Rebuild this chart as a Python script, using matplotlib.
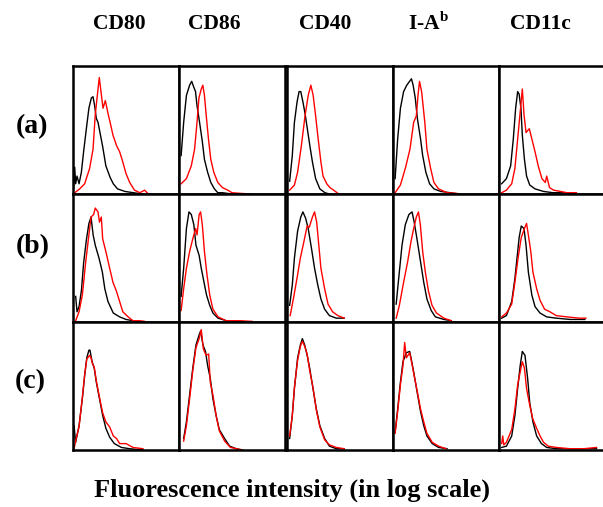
import matplotlib
matplotlib.use("Agg")
import matplotlib.pyplot as plt

plt.rcParams['font.family'] = ['Liberation Serif', 'DejaVu Serif']
plt.rcParams['font.weight'] = 'bold'
plt.rcParams['mathtext.fontset'] = 'custom'
plt.rcParams['mathtext.rm'] = 'Liberation Serif:bold'

markers = ["CD80", "CD86", "CD40", r"I-A$^{\mathrm{b}}$", "CD11c"]
row_labels = ["(a)", "(b)", "(c)"]
x_label = "Fluorescence intensity (in log scale)"

# histogram outlines: (intensity %, count % of panel height)
a_cd80_black = [(0.6, 4), (1.6, 21), (2.5, 8), (3.8, 14), (5.7, 8), (7.9, 17), (10, 33), (12.6, 51),
                (15, 67), (17.3, 75), (18.9, 76), (20.4, 69), (22, 59), (23.6, 56), (25, 50), (28, 37),
                (31, 22), (35, 13), (38, 8), (42, 4), (49, 2), (57, 1), (66, 0)]
a_cd80_red = [(1.6, 1), (6.3, 4), (11, 8), (15.7, 20), (18.9, 35), (21, 62), (23.6, 82), (24.8, 91),
              (26.4, 80), (28.3, 67), (30.5, 73), (33, 63), (35, 56), (37.7, 46), (41, 38), (44, 33),
              (47, 25), (50, 16), (53.5, 9), (58, 3), (63, 1), (67.6, 3), (71, 0), (75, 0)]
a_cd86_black = [(2, 30), (4.4, 56), (7, 77), (10, 85), (12, 88), (13.7, 84), (15.6, 80), (17, 69),
                (19.4, 56), (22, 41), (24, 27), (27, 17), (30, 9), (33.4, 4), (36.6, 1), (41, 1),
                (50, 0), (63, 0)]
a_cd86_red = [(2, 8), (7, 12), (11.6, 22), (14.7, 35), (17, 56), (18.8, 75), (21, 82), (22.5, 85),
              (24, 77), (25.6, 62), (27.8, 43), (30, 27), (32.8, 17), (36.6, 9), (41, 5), (46, 3),
              (50, 1), (58, 0.5), (68, 0)]
a_cd40_black = [(2.5, 10), (5, 30), (7, 56), (9.5, 72), (11.4, 80), (13, 80), (15, 72), (17, 63),
                (19, 52), (21.5, 38), (24, 25), (27, 12), (31, 4), (35.8, 1), (40, 0)]
a_cd40_red = [(2.5, 3), (7, 7), (10, 17), (13.6, 38), (17, 61), (20, 77), (22.5, 85), (24.7, 77),
              (27, 61), (29.4, 43), (32, 25), (34, 14), (37.5, 8), (40.5, 5), (44, 3), (48, 0.5)]
a_iab_black = [(2, 12), (4.4, 43), (7, 67), (10, 80), (13, 85), (17.4, 90), (19, 85), (21, 75),
               (23, 59), (26, 43), (28, 30), (31, 17), (34.5, 8), (38.6, 4), (45, 2), (54, 1), (62, 0)]
a_iab_red = [(2, 1), (7, 7), (11.6, 20), (16, 35), (19.5, 56), (22, 61), (23.6, 77), (25, 88),
             (27, 80), (30, 56), (32, 35), (35.5, 20), (38.6, 9), (43, 4), (51, 1), (60, 0.5), (63, 0)]
a_cd11c_black = [(2.5, 8), (7, 12), (11, 22), (13.5, 43), (15.7, 67), (17.6, 80), (19, 78), (20.7, 67),
                 (22, 46), (24, 27), (26, 14), (29, 7), (34, 4), (42, 2), (51, 1), (64, 1), (73, 0.5)]
a_cd11c_red = [(2.5, 1), (7, 3), (12, 8), (15, 20), (17.6, 43), (20, 64), (22, 82), (23.6, 62),
               (25.5, 48), (28.6, 51), (31, 43), (34, 33), (37, 22), (40.5, 12), (43.7, 9), (45, 14),
               (47.7, 5), (51.5, 3), (58, 2), (64, 1), (73, 1)]

b_cd80_black = [(2.5, 20), (3.8, 8), (5.7, 12), (8, 25), (10, 46), (12.6, 64), (15, 77), (17, 82),
                (19, 68), (21, 60), (24.5, 50), (27.7, 39), (30, 26), (33, 16), (38, 7), (44, 4),
                (50, 2), (56.6, 1), (66, 0)]
b_cd80_red = [(2.5, 1), (5.7, 8), (8.8, 21), (12, 47), (15, 68), (17, 82), (19.5, 84), (21, 89),
              (23.6, 86), (25, 78), (26.7, 82), (28, 65), (31, 55), (34.6, 42), (37.7, 31), (41, 24),
              (44, 16), (47, 8), (52, 4), (56.6, 1), (63, 1), (67.6, 0.5)]
b_cd86_black = [(2, 20), (4.4, 42), (7, 73), (9.4, 86), (11.6, 84), (14, 76), (16, 60), (19, 52),
                (21, 42), (23.6, 31), (26, 21), (29, 13), (32, 7), (36.8, 3), (44.6, 1), (60, 0.5)]
b_cd86_red = [(2, 9), (4.4, 26), (7, 42), (10, 55), (13, 65), (15.7, 73), (17, 68), (19, 84),
              (20.4, 86), (22, 76), (24, 55), (26.4, 37), (29, 21), (32, 10), (36.8, 4), (44.6, 1),
              (57, 1), (69, 0.5)]
b_cd40_black = [(2.5, 13), (5, 29), (7, 50), (10, 71), (13, 82), (15, 86), (17.6, 81), (20, 73),
                (23, 58), (26, 42), (29, 29), (32, 18), (35.5, 10), (40, 5), (46.5, 3), (54, 3)]
b_cd40_red = [(3, 5), (6, 18), (9.4, 34), (12.6, 50), (16, 63), (19, 75), (21, 74), (24, 82),
              (26, 86), (28, 78), (30, 60), (32, 42), (35.5, 26), (38.7, 14), (43, 8), (48, 5), (54, 3)]
b_iab_black = [(3, 14), (5, 31), (8.5, 60), (11.6, 76), (15, 84), (18, 86), (20, 78), (22.6, 65),
               (26, 47), (29, 31), (32, 18), (36, 9), (40, 4), (48, 2), (55, 1)]
b_iab_red = [(3, 3), (6, 13), (10, 31), (13.8, 47), (17, 63), (19.5, 73), (22, 82), (24, 86),
             (25.8, 76), (28, 55), (30.5, 39), (33.5, 24), (36.8, 13), (41, 7), (48, 3), (55, 1)]
b_cd11c_black = [(2.5, 3), (7, 5), (12, 16), (15, 34), (17, 50), (19, 66), (21, 75), (23.6, 73),
                 (25.5, 60), (27.7, 39), (31, 21), (34, 12), (38.7, 7), (45, 4), (54, 3), (67, 2), (81, 2)]
b_cd11c_red = [(2.5, 4), (7, 7), (12, 14), (15, 31), (18, 50), (21, 66), (24, 73), (26, 77),
               (27.7, 68), (30, 55), (32, 39), (35.5, 26), (38.7, 17), (43, 10), (48, 8), (54, 5),
               (64, 4), (76, 3), (82, 3)]

c_cd80_black = [(1, 19), (2.5, 6), (5.7, 19), (8.8, 40), (11, 58), (13, 72), (15, 78), (16, 78),
                (18, 69), (20, 64), (22, 53), (25, 40), (28, 27), (31, 17), (34.6, 10), (39, 5),
                (45.6, 2), (53.5, 1), (66, 0)]
c_cd80_red = [(1, 1), (3, 9), (5.7, 18), (8.8, 41), (11, 59), (13, 71), (15.7, 74), (17, 72),
              (18.5, 67), (20, 65), (22, 54), (25, 41), (28, 29), (31, 22), (34.6, 18), (38, 11),
              (41, 9), (44, 5), (50, 5), (56.6, 2), (66, 1)]
c_cd86_black = [(4.4, 9), (7, 22), (10, 43), (13, 64), (16, 82), (19, 90), (20.4, 93), (22.6, 82),
                (25, 77), (27, 66), (29.5, 56), (32, 40), (35, 27), (38, 16), (43, 9), (47.8, 3),
                (54, 1), (60, 0)]
c_cd86_red = [(4.4, 7), (7, 19), (10, 40), (13, 62), (16, 80), (19, 87), (21, 94), (23, 79),
              (25.5, 74), (28, 75), (29.5, 53), (32, 43), (35, 27), (38, 15), (43, 7), (48.5, 2),
              (60, 0)]
c_cd40_black = [(2.5, 9), (5, 27), (7, 48), (10, 72), (12.6, 82), (14.5, 87), (16.7, 82), (19, 74),
                (21.4, 64), (24.5, 48), (27.7, 32), (31, 19), (35.5, 9), (40, 3), (46.5, 1), (54, 1)]
c_cd40_red = [(2.5, 11), (5, 27), (7, 49), (10, 70), (12.6, 81), (14.5, 85), (16.7, 81), (19, 75),
              (21.4, 62), (24.5, 49), (27.7, 31), (31, 18), (35.5, 8), (40, 4), (46.5, 2), (54, 1)]
c_iab_black = [(2, 14), (4.4, 32), (7, 53), (9.4, 69), (12.6, 76), (15.7, 77), (17, 72), (19.5, 61),
               (22.6, 46), (26, 30), (29, 19), (32, 11), (37, 5), (43, 2), (51, 1)]
c_iab_red = [(2, 13), (4.4, 30), (7, 51), (9.4, 66), (11, 84), (12.6, 72), (15.7, 76), (17, 71),
             (19.5, 60), (22.6, 47), (26, 32), (29, 22), (32, 13), (37, 6), (43, 3), (50, 1)]
c_cd11c_black = [(2.5, 2), (7, 3), (12, 11), (15, 27), (17.6, 48), (20, 66), (22, 77), (24.5, 74),
                 (27, 56), (29, 37), (32, 22), (35.5, 11), (40, 5), (45, 2), (54, 1), (67, 1), (92, 1)]
c_cd11c_red = [(2.5, 5), (3.5, 11), (4.5, 4), (7, 6), (12, 16), (15, 32), (17.6, 51), (20, 61),
               (22, 69), (24, 64), (26, 48), (29, 35), (32, 24), (35.5, 17), (38.7, 11), (42, 6),
               (46.5, 3), (54, 2), (67, 1), (80, 1), (92, 2)]

grid = [
    [(a_cd80_black, a_cd80_red), (a_cd86_black, a_cd86_red), (a_cd40_black, a_cd40_red),
     (a_iab_black, a_iab_red), (a_cd11c_black, a_cd11c_red)],
    [(b_cd80_black, b_cd80_red), (b_cd86_black, b_cd86_red), (b_cd40_black, b_cd40_red),
     (b_iab_black, b_iab_red), (b_cd11c_black, b_cd11c_red)],
    [(c_cd80_black, c_cd80_red), (c_cd86_black, c_cd86_red), (c_cd40_black, c_cd40_red),
     (c_iab_black, c_iab_red), (c_cd11c_black, c_cd11c_red)],
]

W, H = 603, 507
fig = plt.figure(figsize=(W / 100, H / 100), dpi=100)

col_left = [73, 179, 287, 393, 499]
col_w = 106
row_top = [66, 194, 322]
row_h = 128

for r in range(3):
    for c in range(5):
        ax = fig.add_axes([col_left[c] / W, 1 - (row_top[r] + row_h) / H, col_w / W, row_h / H])
        black, red = grid[r][c]
        bx, by = zip(*black)
        rx, ry = zip(*red)
        ax.plot(bx, by, color='black', lw=1.0)
        ax.plot(rx, ry, color='#ff0000', lw=1.0)
        ax.set_xlim(0, 100)
        ax.set_ylim(0, 100)
        ax.set_xticks([])
        ax.set_yticks([])
        for s in ax.spines.values():
            s.set_linewidth(1.8)

header_x = [119, 214, 325, 429, 540]
for c in range(5):
    fig.text(header_x[c] / W, 1 - 24 / H, markers[c], ha='center', va='center',
             fontsize=15.5, fontweight='bold')

row_label_pos = [(32, 127), (33, 247), (30, 382)]
for r in range(3):
    x, y = row_label_pos[r]
    fig.text(x / W, 1 - y / H, row_labels[r], ha='center', va='center',
             fontsize=20, fontweight='bold')

fig.text(292 / W, 1 - 490 / H, x_label, ha='center', va='center', fontsize=19, fontweight='bold')

fig.savefig("out.png", dpi=100)
